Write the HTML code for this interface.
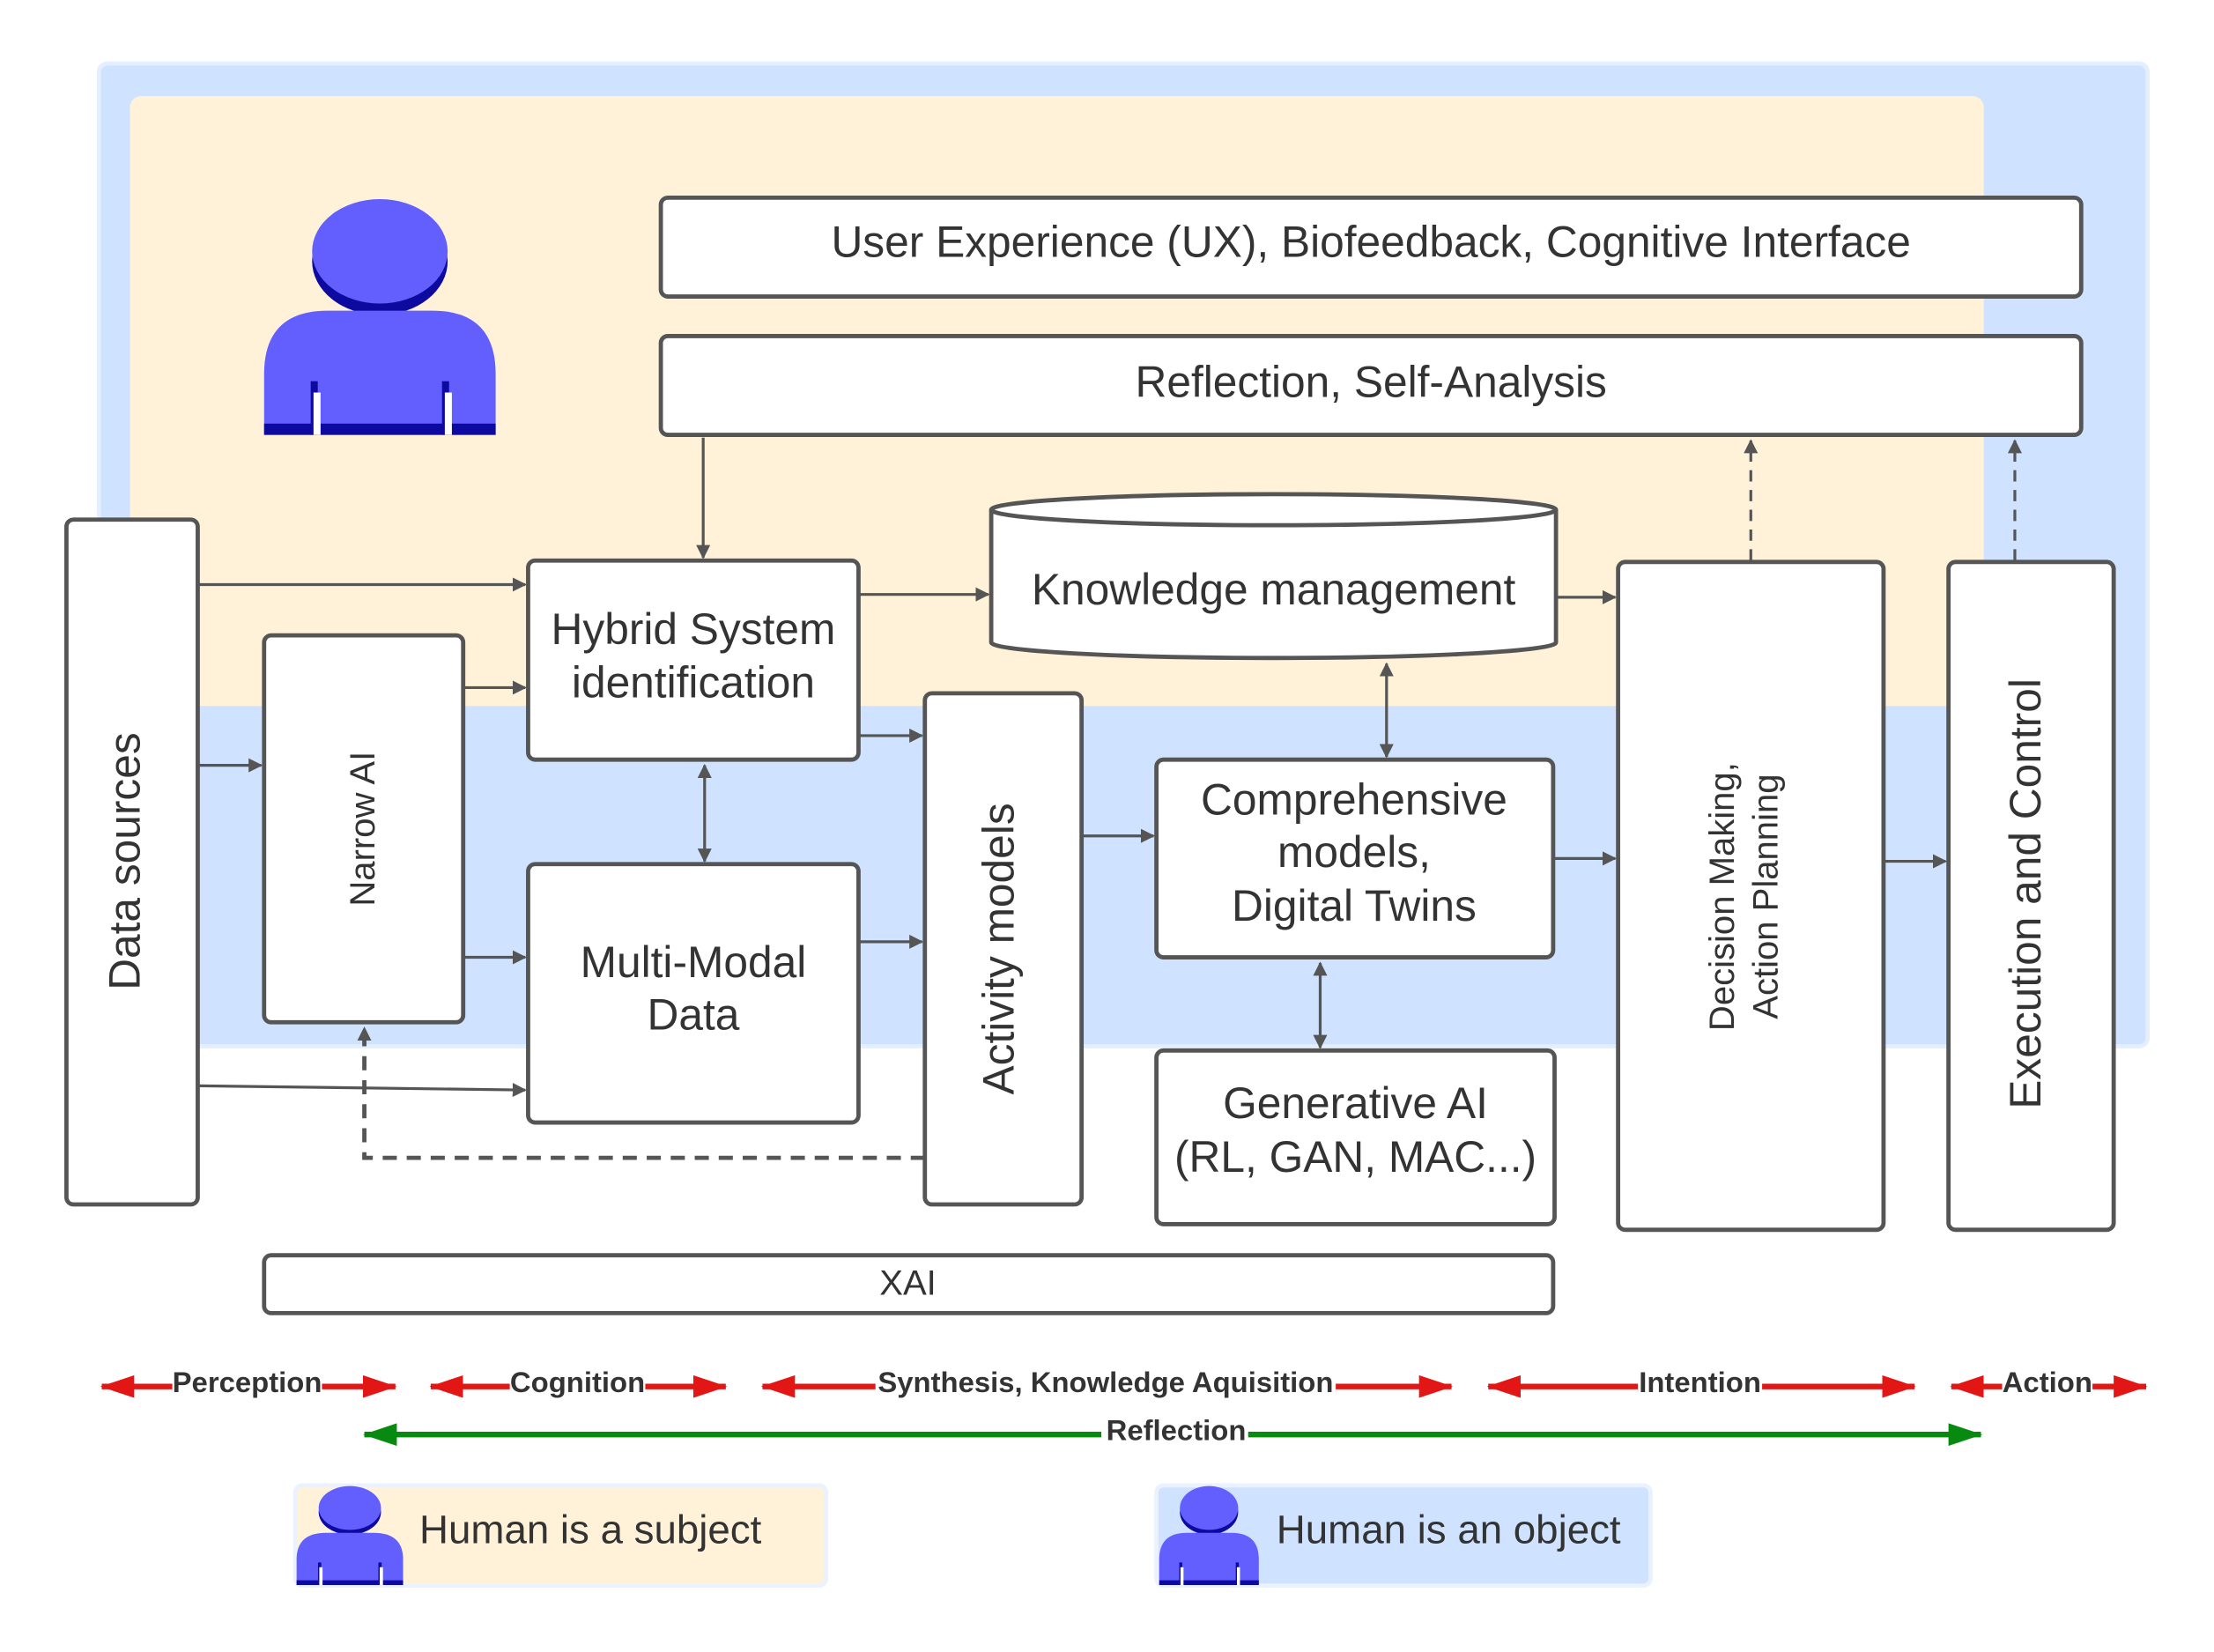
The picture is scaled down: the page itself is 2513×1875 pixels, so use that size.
<!DOCTYPE html>
<html><head><meta charset="utf-8"><style>
html,body{margin:0;padding:0;background:#fff}
svg{display:block}
text{font-family:"Liberation Sans",sans-serif;fill:#333}
</style></head><body>
<svg width="2513" height="1875" viewBox="0 0 1568 1170" xmlns="http://www.w3.org/2000/svg">
<defs>
<marker id="a" markerWidth="10" markerHeight="10" refX="9" refY="5" orient="auto-start-reverse" markerUnits="userSpaceOnUse"><path d="M0,0 L10,5 L0,10 z" fill="#555"/></marker>
<marker id="r" markerWidth="24" markerHeight="16" refX="23" refY="8" orient="auto-start-reverse" markerUnits="userSpaceOnUse"><path d="M0,0 L24,8 L0,16 z" fill="#e31616"/></marker>
<marker id="g" markerWidth="24" markerHeight="16" refX="23" refY="8" orient="auto-start-reverse" markerUnits="userSpaceOnUse"><path d="M0,0 L24,8 L0,16 z" fill="#078a0f"/></marker>
<g id="person">
<ellipse cx="82" cy="45" rx="48" ry="38" fill="#0d0aa0"/>
<ellipse cx="82" cy="38" rx="48" ry="37" fill="#635efe"/>
<path d="M0,160 L0,125 Q0,80 45,80 L119,80 Q164,80 164,125 L164,168 L0,168 z" fill="#635efe"/>
<rect x="0" y="160" width="164" height="8" fill="#0d0aa0"/>
<rect x="33" y="130" width="5" height="38" fill="#0d0aa0"/>
<rect x="126" y="130" width="5" height="38" fill="#0d0aa0"/>
<rect x="35" y="138" width="5" height="30" fill="#fff"/>
<rect x="128" y="138" width="5" height="30" fill="#fff"/>
</g>
</defs>
<rect x="70" y="45" width="1451" height="696" rx="6" fill="#cfe2ff" stroke="#e3eeff" stroke-width="3"/>
<rect x="92" y="68" width="1313" height="432" rx="8" fill="#fff2d9"/>
<use href="#person" transform="translate(187,140)"/>
<g fill="#fff" stroke="#555" stroke-width="3">
<rect x="468" y="140" width="1006" height="70" rx="5"/>
<rect x="468" y="238" width="1006" height="70" rx="5"/>
<rect x="47" y="368" width="93" height="485" rx="5"/>
<rect x="187" y="450" width="141" height="274" rx="5"/>
<rect x="374" y="397" width="234" height="141" rx="5"/>
<rect x="374" y="612" width="234" height="183" rx="5"/>
<rect x="655" y="491" width="111" height="362" rx="5"/>
<rect x="819" y="538" width="281" height="140" rx="5"/>
<rect x="819" y="744" width="282" height="123" rx="5"/>
<rect x="1146" y="398" width="188" height="473" rx="5"/>
<rect x="1380" y="398" width="117" height="473" rx="5"/>
<rect x="187" y="889" width="913" height="41" rx="5"/>
<path d="M702,361 L702,455 A200,11 0 0 0 1102,455 L1102,361"/>
<ellipse cx="902" cy="361" rx="200" ry="11"/>
</g>
<g font-size="31" text-anchor="middle">
<text x="971" y="182">User Experience (UX), Biofeedback, Cognitive Interface</text>
<text x="971" y="281">Reflection, Self-Analysis</text>
<text x="902" y="428">Knowledge management</text>
<text x="491" y="456">Hybrid System</text>
<text x="491" y="494">identification</text>
<text x="491" y="692">Multi-Modal</text>
<text x="491" y="729">Data</text>
<text x="959" y="577">Comprehensive</text>
<text x="959" y="614">models,</text>
<text x="959" y="652">Digital Twins</text>
<text x="960" y="792">Generative AI</text>
<text x="960" y="830">(RL, GAN, MAC...)</text>
<text x="643" y="917" font-size="25">XAI</text>
<text transform="translate(99,610) rotate(-90)">Data sources</text>
<text transform="translate(718,672) rotate(-90)">Activity models</text>
<text transform="translate(1445,633) rotate(-90)">Execution and Control</text>
<text transform="translate(265,587) rotate(-90)" font-size="25">Narrow AI</text>
<text transform="translate(1228,635) rotate(-90)" font-size="25">Decision Making,</text>
<text transform="translate(1259,635) rotate(-90)" font-size="25">Action Planning</text>
</g>
<g stroke="#555" stroke-width="2" fill="none" marker-end="url(#a)">
<line x1="498" y1="310" x2="498" y2="395"/>
<line x1="141" y1="414" x2="372" y2="414"/>
<line x1="329" y1="487" x2="372" y2="487"/>
<line x1="141" y1="542" x2="185" y2="542"/>
<line x1="329" y1="678" x2="372" y2="678"/>
<line x1="141" y1="769" x2="372" y2="772"/>
<line x1="609" y1="421" x2="700" y2="421"/>
<line x1="609" y1="521" x2="653" y2="521"/>
<line x1="609" y1="667" x2="653" y2="667"/>
<line x1="767" y1="592" x2="817" y2="592"/>
<line x1="1103" y1="423" x2="1144" y2="423"/>
<line x1="1101" y1="608" x2="1144" y2="608"/>
<line x1="1335" y1="610" x2="1378" y2="610"/>
<line x1="499" y1="542" x2="499" y2="610" marker-start="url(#a)"/>
<line x1="982" y1="470" x2="982" y2="536" marker-start="url(#a)"/>
<line x1="935" y1="682" x2="935" y2="742" marker-start="url(#a)"/>
<line x1="1240" y1="397" x2="1240" y2="312" stroke-dasharray="8,6"/>
<line x1="1427" y1="397" x2="1427" y2="312" stroke-dasharray="8,6"/>
<path d="M655,820 L258,820 L258,728" stroke-width="3" stroke-dasharray="10,7"/>
</g>
<g stroke-width="4" fill="none">
<line x1="72" y1="982" x2="280" y2="982" stroke="#e31616" marker-start="url(#r)" marker-end="url(#r)"/>
<line x1="305" y1="982" x2="514" y2="982" stroke="#e31616" marker-start="url(#r)" marker-end="url(#r)"/>
<line x1="540" y1="982" x2="1028" y2="982" stroke="#e31616" marker-start="url(#r)" marker-end="url(#r)"/>
<line x1="1054" y1="982" x2="1356" y2="982" stroke="#e31616" marker-start="url(#r)" marker-end="url(#r)"/>
<line x1="1382" y1="982" x2="1520" y2="982" stroke="#e31616" marker-start="url(#r)" marker-end="url(#r)"/>
<line x1="258" y1="1016" x2="1403" y2="1016" stroke="#078a0f" marker-start="url(#g)" marker-end="url(#g)"/>
</g>
<g font-size="20.5" font-weight="bold" text-anchor="middle">
<rect x="122" y="968" width="106" height="24" fill="#fff"/><text x="175" y="986">Perception</text>
<rect x="361" y="968" width="96" height="24" fill="#fff"/><text x="409" y="986">Cognition</text>
<rect x="620" y="968" width="326" height="24" fill="#fff"/><text x="783" y="986">Synthesis, Knowledge Aquisition</text>
<rect x="1160" y="968" width="88" height="24" fill="#fff"/><text x="1204" y="986">Intention</text>
<rect x="1418" y="968" width="64" height="24" fill="#fff"/><text x="1450" y="986">Action</text>
<rect x="780" y="1003" width="104" height="24" fill="#fff"/><text x="833" y="1020">Reflection</text>
</g>
<rect x="209" y="1052" width="376" height="71" rx="5" fill="#fff2d9" stroke="#eaf2ff" stroke-width="3"/>
<rect x="819" y="1052" width="350" height="71" rx="5" fill="#cfe2ff" stroke="#eaf2ff" stroke-width="3"/>
<use href="#person" transform="translate(210,1052) scale(0.46,0.42)"/>
<use href="#person" transform="translate(821,1052) scale(0.43,0.42)"/>
<text x="297" y="1093" font-size="28.5">Human is a subject</text>
<text x="904" y="1093" font-size="28.5">Human is an object</text>
</svg>
</body></html>
